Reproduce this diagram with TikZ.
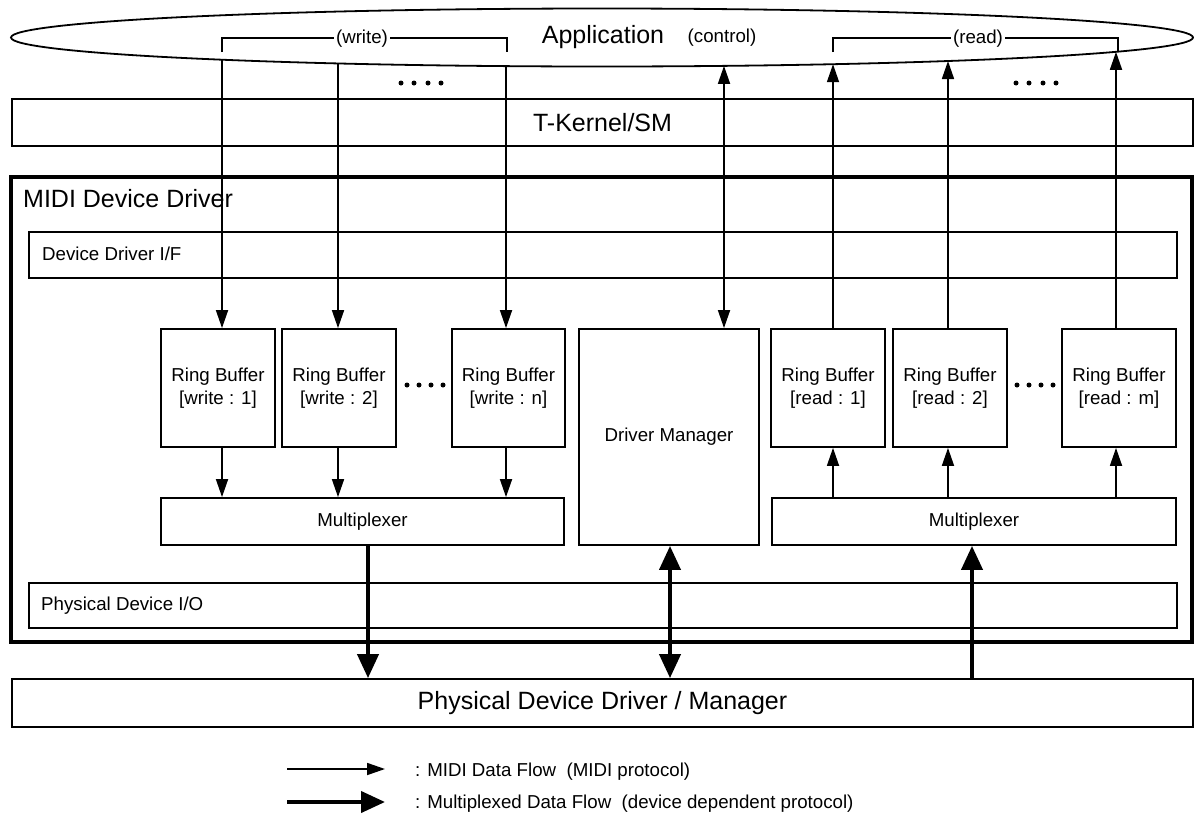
\documentclass[tikz,border=0pt]{standalone}
\usepackage{fontspec}
\setmainfont{Liberation Sans}
\usetikzlibrary{arrows.meta,intersections}

\tikzset{
  txt/.style={font=\fontsize{18.7}{23}\selectfont, inner sep=0pt},
  bigtxt/.style={font=\fontsize{25}{30}\selectfont, inner sep=0pt},
  box/.style={draw, line width=1.8pt, inner sep=0pt, align=center, txt},
  bigbox/.style={box, bigtxt},
  outerbox/.style={draw, line width=4.5pt, inner sep=0pt},
  bracket/.style={line width=1.5pt},
  flow/.style={line width=1.7pt, -{Triangle[length=18pt,width=12pt]}},
  flowboth/.style={line width=1.7pt, {Triangle[length=18pt,width=12pt]}-{Triangle[length=18pt,width=12pt]}},
  mflow/.style={line width=4pt, -{Triangle[length=24pt,width=21pt]}},
  mflowboth/.style={line width=4pt, {Triangle[length=24pt,width=21pt]}-{Triangle[length=24pt,width=21pt]}},
}

\begin{document}
\begin{tikzpicture}[x=1pt,y=-1pt]
\useasboundingbox (0,0) rectangle (1194,817);

% ---- application layer ----
\draw[name path=app, line width=1.8pt] (602,37.5) ellipse [x radius=591, y radius=29];
\node[bigtxt, anchor=base] (appl) at (603,43) {Application};
\node[txt, anchor=base] (ctl) at (722,42) {(control)};

\draw[bracket] (222,52) -- (222,38) -- (507,38) -- (507,52);
\node[txt, anchor=base, fill=white, inner xsep=2pt] (wlab) at (362,43) {(write)};
\draw[bracket] (833,52) -- (833,38) -- (1118,38) -- (1118,52);
\node[txt, anchor=base, fill=white, inner xsep=2pt] (rlab) at (978,43) {(read)};

% ---- layers ----
\node[bigbox, minimum width=1181, minimum height=47] (tk) at (602.5,122.5) {T-Kernel/SM};
\node[outerbox, minimum width=1181, minimum height=465] (midi) at (601.5,409.5) {};
\node[bigtxt, anchor=base west] (midilab) at (23,207) {MIDI Device Driver};
\node[box, minimum width=1148, minimum height=46] (ddif) at (603,255) {};
\node[txt, anchor=base west] (ddiflab) at (42,260) {Device Driver I/F};

% ring buffers (write side)
\node[box, minimum width=114, minimum height=118] (w1) at (218,388) {Ring Buffer\\{[write : 1]}};
\node[box, minimum width=114, minimum height=118] (w2) at (339,388) {Ring Buffer\\{[write : 2]}};
\node[box, minimum width=113, minimum height=118] (wn) at (508.5,388) {Ring Buffer\\{[write : n]}};
% driver manager
\node[box, minimum width=180, minimum height=216] (dm) at (669,437) {Driver Manager};
% ring buffers (read side)
\node[box, minimum width=114, minimum height=118] (r1) at (828,388) {Ring Buffer\\{[read : 1]}};
\node[box, minimum width=114, minimum height=118] (r2) at (950,388) {Ring Buffer\\{[read : 2]}};
\node[box, minimum width=114, minimum height=118] (rm) at (1119,388) {Ring Buffer\\{[read : m]}};

% multiplexers
\node[box, minimum width=403, minimum height=47] (muxw) at (362.5,521.5) {Multiplexer};
\node[box, minimum width=404, minimum height=47] (muxr) at (974,521.5) {Multiplexer};

\node[box, minimum width=1148, minimum height=45] (pdio) at (603,605.5) {};
\node[txt, anchor=base west] (pdiolab) at (41,610) {Physical Device I/O};

\node[bigbox, minimum width=1181, minimum height=48] (pdd) at (602.5,703) {Physical Device Driver / Manager};

% ---- ellipsis dots ----
\foreach \cx in {401,414,428,441, 1016,1029,1043,1056}
  \fill (\cx,83) circle (2.5);
\foreach \cx in {407,419,431,443, 1017,1029,1041,1053}
  \fill (\cx,385) circle (2.5);

% ---- end points on the application outline ----
\path[name path=vw1] (222,0) -- (222,100);
\path[name path=vw2] (338,0) -- (338,100);
\path[name path=vwn] (506,0) -- (506,100);
\path[name path=vdm] (724,0) -- (724,100);
\path[name path=vr1] (833,0) -- (833,100);
\path[name path=vr2] (948,0) -- (948,100);
\path[name path=vrm] (1116,0) -- (1116,100);
\path[name intersections={of=vw1 and app, sort by=vw1, by={topw1,botw1}}];
\path[name intersections={of=vw2 and app, sort by=vw2, by={topw2,botw2}}];
\path[name intersections={of=vwn and app, sort by=vwn, by={topwn,botwn}}];
\path[name intersections={of=vdm and app, sort by=vdm, by={topdm,botdm}}];
\path[name intersections={of=vr1 and app, sort by=vr1, by={topr1,botr1}}];
\path[name intersections={of=vr2 and app, sort by=vr2, by={topr2,botr2}}];
\path[name intersections={of=vrm and app, sort by=vrm, by={toprm,botrm}}];

% ---- MIDI data flow ----
\foreach \n in {w1,w2,wn} {
  \draw[flow] (bot\n) -- (bot\n |- \n.north);
  \draw[flow] (bot\n |- \n.south) -- (bot\n |- muxw.north);
}
\draw[flowboth] (botdm) -- (botdm |- dm.north);
\foreach \n in {r1,r2,rm} {
  \draw[flow] (bot\n |- \n.north) -- (bot\n);
  \draw[flow] (bot\n |- muxr.north) -- (bot\n |- \n.south);
}

% ---- multiplexed data flow ----
\draw[mflow] ([xshift=5.5pt]muxw.south) -- ([xshift=5.5pt]muxw.south |- pdd.north);
\draw[mflowboth] ([xshift=1pt]dm.south) -- ([xshift=1pt]dm.south |- pdd.north);
\draw[mflow] ([xshift=-2pt]muxr.south |- pdd.north) -- ([xshift=-2pt]muxr.south);

% ---- legend ----
\coordinate (la1) at (287,769);
\coordinate (lb1) at (385,769);
\coordinate (la2) at (287,802);
\coordinate (lb2) at (385,802);
\draw[flow] (la1) -- (lb1);
\draw[mflow] (la2) -- (lb2);
\node[txt, anchor=base west] (lt1) at (415,776) {: MIDI Data Flow\ \ (MIDI protocol)};
\node[txt, anchor=base west] (lt2) at (415,808) {: Multiplexed Data Flow\ \ (device dependent protocol)};
\end{tikzpicture}
\end{document}
